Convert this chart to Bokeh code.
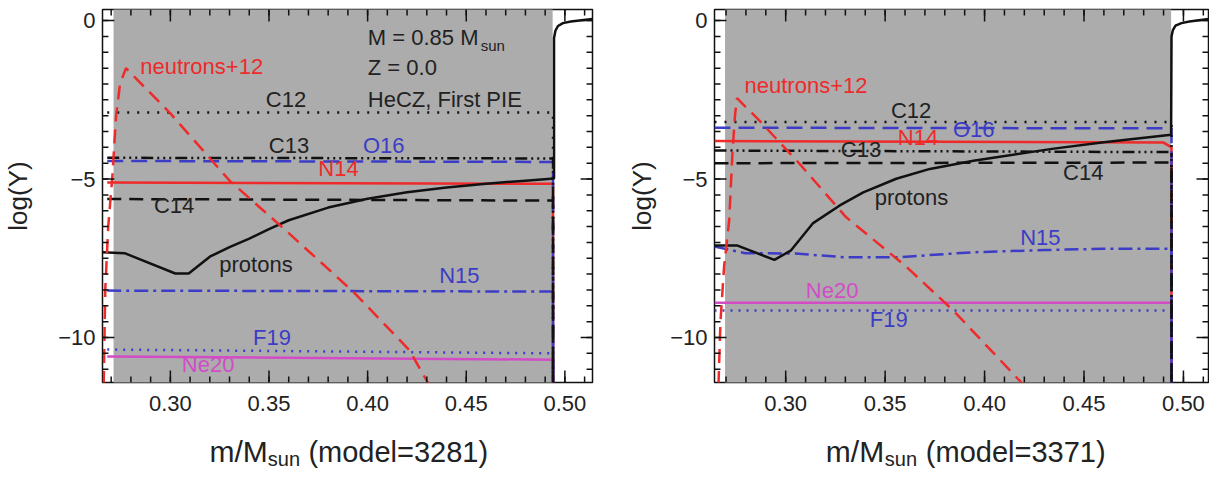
from bokeh.plotting import figure
from bokeh.models import Range1d, Label, FixedTicker, NumeralTickFormatter
from bokeh.layouts import row, column
from bokeh.embed import file_html
from bokeh.resources import INLINE

FONT = "Liberation Sans"
RED = "#ee2a2a"
BLUE = "#3c3cc6"
MAG = "#d24cc6"
BLACK = "#111111"
TXT = "#222222"
GRAY = "#acacac"

# ---------------- panel A : model 3281 ----------------
a_hecz = [0.2712, 0.4938]
a_flat_x = [0.268, 0.494, 0.494]
a_C12 = [-2.90, -2.90, -13.0]
a_C13 = [-4.33, -4.35, -13.0]
a_O16 = [-4.43, -4.46, -13.0]
a_N14 = [-5.11, -5.15, -13.0]
a_C14 = [-5.63, -5.68, -13.0]
a_N15 = [-8.52, -8.55, -13.0]
a_F19 = [-10.38, -10.50, -13.0]
a_Ne20 = [-10.60, -10.70, -13.0]
a_prot_x = [0.2656, 0.2768, 0.3025, 0.3093, 0.320, 0.330, 0.340, 0.350, 0.360, 0.380,
            0.400, 0.420, 0.440, 0.460, 0.480, 0.4945, 0.4945, 0.4952, 0.4965, 0.499,
            0.503, 0.514]
a_prot_y = [-7.31, -7.34, -7.98, -7.98, -7.45, -7.15, -6.88, -6.58, -6.30, -5.90,
            -5.62, -5.42, -5.27, -5.15, -5.05, -4.98, -0.55, -0.32, -0.17, -0.08,
            -0.03, 0.05]
a_neut_x = [0.2662, 0.2670, 0.2685, 0.2705, 0.2725, 0.2745, 0.2775, 0.300, 0.330,
            0.3585, 0.3926, 0.4212, 0.4312]
a_neut_y = [-11.5, -8.5, -6.5, -5.0, -3.0, -2.0, -1.5, -2.93, -5.05, -6.62, -8.55,
            -10.40, -11.5]

# ---------------- panel B : model 3371 ----------------
b_hecz = [0.2695, 0.4938]
b_flat_x = [0.2642, 0.490, 0.494, 0.494]
b_C12 = [-3.20, -3.20, -3.20, -13.0]
b_O16 = [-3.38, -3.40, -3.40, -13.0]
b_N14 = [-3.80, -3.85, -4.00, -13.0]
b_C13 = [-4.10, -4.15, -4.15, -13.0]
b_C14 = [-4.50, -4.48, -4.48, -13.0]
b_F19 = [-9.15, -9.15, -9.15, -13.0]
b_Ne20 = [-8.90, -8.90, -8.90, -13.0]
b_N15_x = [0.2642, 0.2798, 0.305, 0.330, 0.3556, 0.394, 0.430, 0.460, 0.494, 0.494]
b_N15_y = [-7.13, -7.34, -7.35, -7.47, -7.47, -7.31, -7.24, -7.20, -7.20, -13.0]
b_prot_x = [0.2642, 0.2758, 0.2943, 0.3025, 0.3136, 0.327, 0.339, 0.3556, 0.3725,
            0.3944, 0.4348, 0.460, 0.4938, 0.4940, 0.4947, 0.496, 0.499, 0.503, 0.5126]
b_prot_y = [-7.10, -7.10, -7.55, -7.26, -6.40, -5.84, -5.42, -4.99, -4.68, -4.42,
            -4.04, -3.84, -3.60, -0.50, -0.30, -0.16, -0.08, -0.03, 0.05]
b_neut_x = [0.2662, 0.2672, 0.2690, 0.2716, 0.2732, 0.2745, 0.2755, 0.2867, 0.307,
            0.3303, 0.360, 0.3843, 0.4197]
b_neut_y = [-11.5, -9.5, -7.78, -6.3, -4.2, -3.0, -2.45, -3.15, -4.52, -6.2, -7.73,
            -9.15, -11.5]

x_major = [0.30, 0.35, 0.40, 0.45, 0.50]
x_minor = [round(0.26 + 0.01 * i, 2) for i in range(27)]
y_major = [-10, -5, 0]
y_minor = [-12 + 0.5 * i for i in range(26)]
y_labels = {0: "0", -5: "\u22125", -10: "\u221210"}

YR = (-11.42, 0.35)
FRAME_H = 373
TOP = 9
BOT = 38
TOTAL_H = 469
TITLE_H = TOTAL_H - (TOP + FRAME_H + BOT)
YS = FRAME_H / (YR[1] - YR[0])
LIFT = 0.36  # glyph-centre correction, as a fraction of font size


def add_ticks(p, xr, frame_w):
    xs = frame_w / (xr[1] - xr[0])
    for ticks, L in ((x_minor, 6), (x_major, 12)):
        t = [v for v in ticks if xr[0] < v < xr[1]]
        dy = L / YS
        p.segment(x0=t, x1=t, y0=[YR[0]] * len(t), y1=[YR[0] + dy] * len(t),
                  line_color=BLACK, line_width=1.5)
        p.segment(x0=t, x1=t, y0=[YR[1]] * len(t), y1=[YR[1] - dy] * len(t),
                  line_color=BLACK, line_width=1.5)
    for ticks, L in ((y_minor, 6), (y_major, 12)):
        t = [v for v in ticks if YR[0] < v < YR[1]]
        dx = L / xs
        p.segment(x0=[xr[0]] * len(t), x1=[xr[0] + dx] * len(t), y0=t, y1=t,
                  line_color=BLACK, line_width=1.5)
        p.segment(x0=[xr[1]] * len(t), x1=[xr[1] - dx] * len(t), y0=t, y1=t,
                  line_color=BLACK, line_width=1.5)


def make_panel(xr, frame_w, bl, br, label_standoff, hecz, lines, texts, title_x, model):
    width = bl + frame_w + br
    p = figure(width=width, height=TOP + FRAME_H + BOT, x_range=Range1d(*xr),
               y_range=Range1d(*YR), output_backend="svg", toolbar_location=None,
               min_border_left=bl, min_border_right=br, min_border_top=TOP,
               min_border_bottom=BOT)
    p.grid.visible = False
    p.outline_line_color = BLACK
    p.outline_line_width = 1.5
    p.background_fill_color = "white"
    p.border_fill_color = "white"

    p.xaxis.ticker = FixedTicker(ticks=x_major, minor_ticks=x_minor)
    p.yaxis.ticker = FixedTicker(ticks=y_major, minor_ticks=y_minor)
    p.xaxis.formatter = NumeralTickFormatter(format="0.00")
    p.yaxis.major_label_overrides = y_labels
    for ax in (p.xaxis[0], p.yaxis[0]):
        ax.axis_line_color = None
        ax.major_tick_in = 0
        ax.major_tick_out = 0
        ax.minor_tick_in = 0
        ax.minor_tick_out = 0
        ax.major_tick_line_color = None
        ax.minor_tick_line_color = None
        ax.major_label_text_font = FONT
        ax.major_label_text_font_size = "22px"
        ax.major_label_text_color = TXT
    p.xaxis.major_label_standoff = 13
    p.yaxis.major_label_standoff = 7
    p.yaxis.axis_label = "log(Y)"
    p.yaxis.axis_label_text_font = FONT
    p.yaxis.axis_label_text_font_size = "26px"
    p.yaxis.axis_label_text_font_style = "normal"
    p.yaxis.axis_label_text_color = TXT
    p.yaxis.axis_label_standoff = label_standoff

    p.quad(left=[hecz[0]], right=[hecz[1]], bottom=[-20], top=[5],
           fill_color=GRAY, line_color=None)

    for xs, ys, color, dash in lines:
        p.line(xs, ys, line_color=color, line_width=2.5, line_dash=dash)

    add_ticks(p, xr, frame_w)

    for txt, x, y, color, size in texts:
        p.add_layout(Label(x=x, y=y + LIFT * size / YS, text=txt, text_color=color,
                           text_font=FONT, text_font_size=f"{size}px",
                           text_baseline="alphabetic", text_align="left"))

    # x-axis title (with subscript) drawn in a strip below the panel
    t = figure(width=width, height=TITLE_H, x_range=Range1d(*xr),
               y_range=Range1d(0, TITLE_H), output_backend="svg",
               toolbar_location=None, min_border_left=bl, min_border_right=br,
               min_border_top=0, min_border_bottom=0,
               x_axis_location=None, y_axis_location=None)
    t.grid.visible = False
    t.outline_line_color = None
    xs_px = frame_w / (xr[1] - xr[0])
    base = 7  # visual baseline, px above the bottom of the strip
    t.add_layout(Label(x=title_x, y=base + LIFT * 30, text="m/M", text_font=FONT,
                       text_font_size="30px", text_color=TXT,
                       text_baseline="alphabetic"))
    t.add_layout(Label(x=title_x + 59 / xs_px, y=base - 3.5 + LIFT * 20, text="sun",
                       text_font=FONT, text_font_size="20px", text_color=TXT,
                       text_baseline="alphabetic"))
    t.add_layout(Label(x=title_x + 100 / xs_px, y=base + LIFT * 29,
                       text="(model=" + model + ")",
                       text_font=FONT, text_font_size="29px", text_color=TXT,
                       text_baseline="alphabetic"))
    return column(p, t)


DOT = "2 8"
DASH = "14 8"
DASHDOT = "14 5 3 5"
DDD = "12 4 2 4 2 4 2 4"

a_lines = [
    (a_flat_x, a_N14, RED, "solid"),
    (a_flat_x, a_Ne20, MAG, "solid"),
    (a_flat_x, a_F19, BLUE, "2 6"),
    (a_flat_x, a_N15, BLUE, DASHDOT),
    (a_flat_x, a_O16, BLUE, "16 8"),
    (a_flat_x, a_C13, BLACK, DDD),
    (a_flat_x, a_C14, BLACK, DASH),
    (a_flat_x, a_C12, BLACK, DOT),
    (a_prot_x, a_prot_y, BLACK, "solid"),
    (a_neut_x, a_neut_y, RED, DASH),
]
b_lines = [
    (b_flat_x, b_N14, RED, "solid"),
    (b_flat_x, b_Ne20, MAG, "solid"),
    (b_flat_x, b_F19, BLUE, "2 6"),
    (b_N15_x, b_N15_y, BLUE, DASHDOT),
    (b_flat_x, b_O16, BLUE, "16 8"),
    (b_flat_x, b_C13, BLACK, DDD),
    (b_flat_x, b_C14, BLACK, DASH),
    (b_flat_x, b_C12, BLACK, DOT),
    (b_prot_x, b_prot_y, BLACK, "solid"),
    (b_neut_x, b_neut_y, RED, DASH),
]

S = 22
a_texts = [
    ("neutrons+12", 0.2847, -1.70, RED, S),
    ("C12", 0.3484, -2.74, TXT, S),
    ("C13", 0.3499, -4.20, TXT, S),
    ("O16", 0.3976, -4.20, BLUE, S),
    ("N14", 0.3750, -4.92, RED, S),
    ("C14", 0.2917, -6.09, TXT, S),
    ("protons", 0.3248, -7.95, TXT, S),
    ("N15", 0.4363, -8.30, BLUE, S),
    ("F19", 0.3419, -10.25, BLUE, S),
    ("Ne20", 0.3058, -11.10, MAG, S),
    ("M = 0.85 M", 0.4001, -0.79, TXT, S),
    ("sun", 0.4573, -0.95, TXT, 15),
    ("Z = 0.0", 0.4001, -1.74, TXT, S),
    ("HeCZ, First PIE", 0.4001, -2.74, TXT, S),
]
b_texts = [
    ("neutrons+12", 0.2793, -2.30, RED, S),
    ("C12", 0.3529, -3.09, TXT, S),
    ("O16", 0.3841, -3.69, BLUE, S),
    ("N14", 0.3564, -3.94, RED, S),
    ("C13", 0.3277, -4.32, TXT, S),
    ("C14", 0.4395, -5.05, TXT, S),
    ("protons", 0.3448, -5.84, TXT, S),
    ("N15", 0.4179, -7.10, BLUE, S),
    ("Ne20", 0.3101, -8.77, MAG, S),
    ("F19", 0.3423, -9.68, BLUE, S),
]

pa = make_panel((0.2656, 0.514), 495, 97, 12, 22, a_hecz, a_lines, a_texts, 0.3198, "3281")
pb = make_panel((0.2642, 0.5126), 494, 110, 1, 10, b_hecz, b_lines, b_texts, 0.3202, "3371")

layout = row(pa, pb)
open("out.html", "w").write(file_html(layout, INLINE))
